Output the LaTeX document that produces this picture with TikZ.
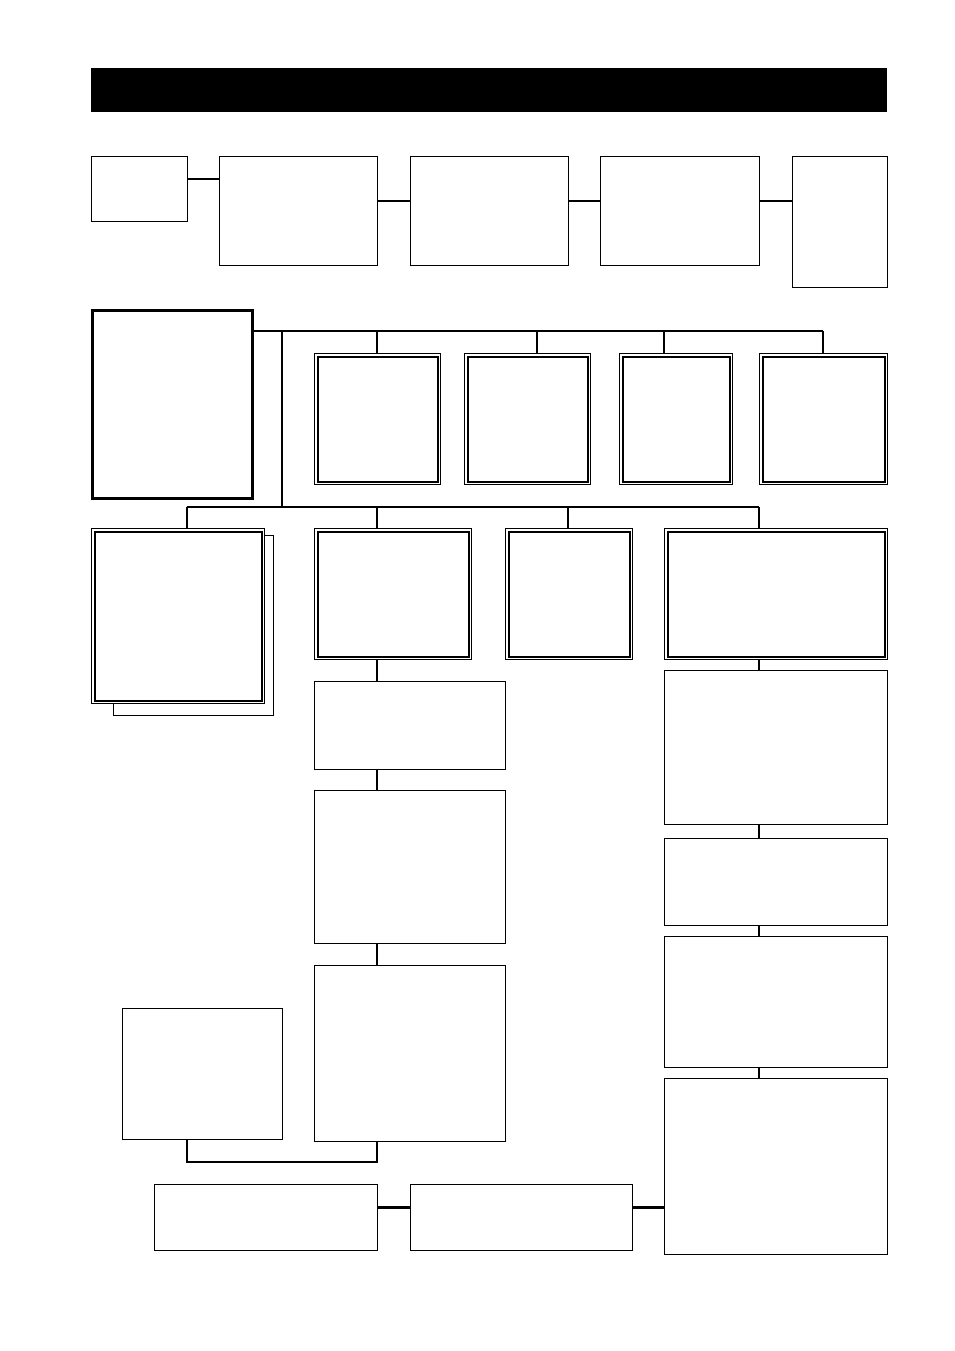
\documentclass[tikz,border=0pt]{standalone}
\usetikzlibrary{positioning}
\tikzset{>=latex}
\tikzset{
  box/.style={draw, line width=1.2pt, fill=white, inner sep=0pt, anchor=north west},
  heavybox/.style={box, line width=3pt},
  link/.style={line width=2.5pt},
  bus/.style={line width=2pt},
}
\def\inset{3.5}

\begin{document}
\begin{tikzpicture}[x=1pt, y=-1pt]

\useasboundingbox (0,0) rectangle (954,1351);

% Title bar
\node[fill=black, inner sep=0pt, anchor=north west, minimum width=796, minimum height=44] (title) at (91,68) {};

% Top row
\node[box, minimum width=96, minimum height=65] (step_a) at (91,156) {};
\node[box, minimum width=158, minimum height=109] (step_b) at (219,156) {};
\node[box, minimum width=158, minimum height=109] (step_c) at (410,156) {};
\node[box, minimum width=159, minimum height=109] (step_d) at (600,156) {};
\node[box, minimum width=95, minimum height=131] (step_e) at (792,156) {};

\draw[link] ([yshift=10pt]step_a.east) -- ([yshift=10pt]step_a.east -| step_b.west);
\draw[link] ([yshift=10pt]step_b.east) -- ([yshift=10pt]step_b.east -| step_c.west);
\draw[link] ([yshift=10pt]step_c.east) -- ([yshift=10pt]step_c.east -| step_d.west);
\draw[link] ([yshift=10pt]step_d.east) -- ([yshift=10pt]step_d.east -| step_e.west);

% Main block and its buses
\node[heavybox, minimum width=160, minimum height=188] (main) at (91,309) {};

\coordinate (bus_top) at (282,331);
\coordinate (bus_low) at (282,507);

% Shadow behind first lower box
\node[box, line width=1pt, minimum width=160, minimum height=180] (shadow) at (113,535) {};

% Upper double boxes
\node[box, line width=1pt, minimum width=126, minimum height=131] (up_a) at (314,353) {};
\node[box, line width=1pt, minimum width=126, minimum height=131] (up_b) at (464,353) {};
\node[box, line width=1pt, minimum width=113, minimum height=131] (up_c) at (619,353) {};
\node[box, line width=1pt, minimum width=128, minimum height=131] (up_d) at (759,353) {};

% Lower double boxes
\node[box, line width=1pt, minimum width=173, minimum height=175] (low_a) at (91,528) {};
\node[box, line width=1pt, minimum width=157, minimum height=131] (low_b) at (314,528) {};
\node[box, line width=1pt, minimum width=127, minimum height=131] (low_c) at (505,528) {};
\node[box, line width=1pt, minimum width=223, minimum height=131] (low_d) at (664,528) {};

\foreach \n in {up_a, up_b, up_c, up_d, low_a, low_b, low_c, low_d}{
    \draw[line width=2pt] ([shift={(\inset,\inset)}]\n.north west) rectangle ([shift={(-\inset,-\inset)}]\n.south east);
}

\draw[bus] (main.east |- bus_top) -- (823,331);
\draw[bus] (bus_top) -- (bus_low);
\draw[bus] (187,507) -- (759,507);

\foreach \x/\n in {377/up_a, 537/up_b, 664/up_c, 823/up_d}{
    \draw[link] (\x,331) -- (\x,331 |- \n.north);
}
\foreach \x/\n in {187/low_a, 377/low_b, 568/low_c, 759/low_d}{
    \draw[link] (\x,507) -- (\x,507 |- \n.north);
}

% Middle column
\node[box, minimum width=191, minimum height=88] (mid_a) at (314,681) {};
\node[box, minimum width=191, minimum height=153] (mid_b) at (314,790) {};
\node[box, minimum width=191, minimum height=176] (mid_c) at (314,965) {};
\node[box, minimum width=160, minimum height=131] (side) at (122,1008) {};

\draw[link] (377,659) -- (377,659 |- mid_a.north);
\draw[link] (377,769) -- (377,769 |- mid_b.north);
\draw[link] (377,943) -- (377,943 |- mid_c.north);
\draw[link] (side.south -| 187,0) -- (187,1162) -- (377,1162) -- (mid_c.south -| 377,0);

% Right column
\node[box, minimum width=223, minimum height=154] (right_a) at (664,670) {};
\node[box, minimum width=223, minimum height=87] (right_b) at (664,838) {};
\node[box, minimum width=223, minimum height=131] (right_c) at (664,936) {};
\node[box, minimum width=223, minimum height=176] (right_d) at (664,1078) {};

\draw[link] (759,659) -- (759,659 |- right_a.north);
\draw[link] (759,824) -- (759,824 |- right_b.north);
\draw[link] (759,925) -- (759,925 |- right_c.north);
\draw[link] (759,1067) -- (759,1067 |- right_d.north);

% Bottom row
\node[box, minimum width=223, minimum height=66] (end_a) at (154,1184) {};
\node[box, minimum width=222, minimum height=66] (end_b) at (410,1184) {};

\draw[link] ([yshift=10pt]end_a.east) -- ([yshift=10pt]end_a.east -| end_b.west);
\draw[link] ([yshift=10pt]end_b.east) -- ([yshift=10pt]end_b.east -| right_d.west);

\end{tikzpicture}
\end{document}
